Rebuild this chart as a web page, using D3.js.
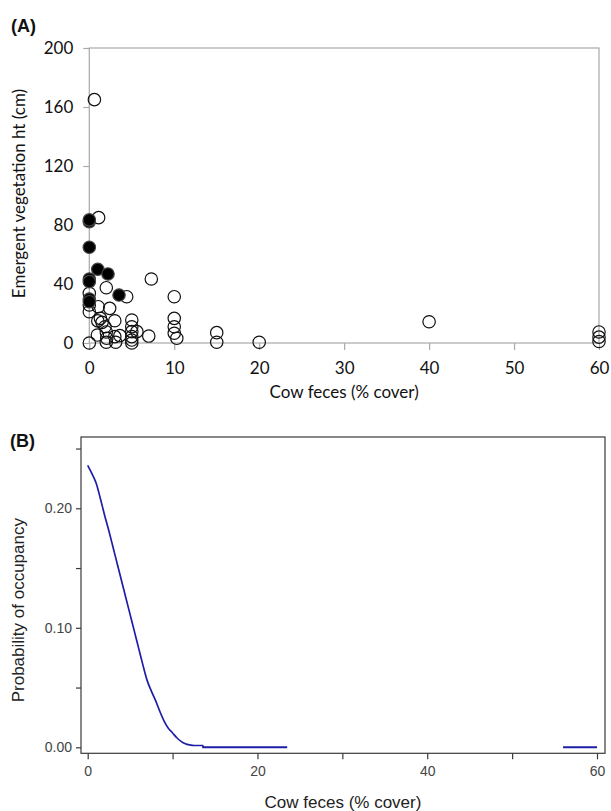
<!DOCTYPE html>
<html>
<head>
<meta charset="utf-8">
<script src="https://cdn.jsdelivr.net/npm/d3@7"></script>
<style>
  html, body { margin: 0; padding: 0; background: #fff; }
  svg { display: block; }
</style>
</head>
<body>
<svg id="fig" width="611" height="811"></svg>
<script>
// ---- Panel A: emergent vegetation height vs. cow feces cover ----
// Sites without the species (open circles)
const openX = [0.6, 1.1, 2.0, 4.4, 7.3, 10, 0, 0, 0, 1.05, 2.4, 1.3, 1.0, 3.0, 1.85, 2.0,
               0.95, 2.05, 3.0, 2.0, 3.1, 0, 5.0, 5.0, 5.0, 5.0, 5.0, 5.0, 5.6, 7.0,
               10, 10, 10, 10.3, 15, 15, 20, 40, 60, 60, 60, 1.5, 3.6];
const openY = [165, 85, 37.5, 31.4, 43.4, 31.4, 33.7, 25.8, 21.2, 24.6, 23.5, 16.7, 15, 15.1, 11, 7.5,
               5.4, 3.2, 4.3, 0.5, 0.5, 0, 15.6, 11, 7.7, 4.3, 2, 0, 7.7, 4.7,
               16.7, 11, 6.6, 3.2, 7, 0.5, 0.5, 14.4, 7.5, 4, 1, 14, 5];
// Occupied sites (filled circles)
const filledX = [0, 0, 0, 1.0, 2.2, 0, 0, 3.5, 0, 0];
const filledY = [82.2, 83.5, 64.9, 50, 46.8, 43.4, 41.6, 32.5, 29.8, 28];
const xTicksA = [0, 10, 20, 30, 40, 50, 60];
const yTicksA = [0, 40, 80, 120, 160, 200];

// ---- Panel B: predicted probability of occupancy ----
const curveX = [0, 0.5, 1, 1.5, 2, 2.5, 3, 3.5, 4, 4.5, 5, 5.5, 6, 6.5, 7, 7.5, 8, 8.5,
                9, 9.5, 10, 10.5, 11, 11.5, 12, 12.6, 13.6];
const curveY = [0.236, 0.229, 0.221, 0.208, 0.194, 0.181, 0.167, 0.153, 0.139, 0.125, 0.111,
                0.097, 0.083, 0.069, 0.056, 0.047, 0.039, 0.030, 0.022, 0.016, 0.012, 0.008,
                0.005, 0.003, 0.002, 0.0015, 0.0015];
const flatX = [13.6, 13.6, 23.5];
const flatY = [0.0015, 0, 0];
const tailX = [56, 60];
const tailY = [0, 0];
const xTicksB = [0, 10, 20, 30, 40, 50, 60];
const xLabelsB = [0, 20, 40, 60];
const yTicksB = [0, 0.05, 0.10, 0.15, 0.20, 0.25];
const yLabelsB = [0, 0.10, 0.20];

const svg = d3.select("#fig");

// =================== Panel A ===================
const xA = d3.scaleLinear().domain([0, 60]).range([89.3, 599]);
const yA = d3.scaleLinear().domain([0, 200]).range([343, 48]);
const fontA = "Lato, 'Open Sans', sans-serif";
const gridGrey = "#a9a9a9";

const gA = svg.append("g");

// plot frame
gA.append("rect")
  .attr("x", xA(0)).attr("y", yA(200))
  .attr("width", xA(60) - xA(0)).attr("height", yA(0) - yA(200))
  .attr("fill", "none").attr("stroke", gridGrey).attr("stroke-width", 1.2);

const axA_x = gA.append("g")
  .attr("transform", `translate(0,${yA(0)})`)
  .call(d3.axisBottom(xA).tickValues(xTicksA).tickSize(7).tickPadding(12).tickFormat(d3.format("d")));
const axA_y = gA.append("g")
  .attr("transform", `translate(${xA(0)},0)`)
  .call(d3.axisLeft(yA).tickValues(yTicksA).tickSize(6).tickPadding(10).tickFormat(d3.format("d")));
[axA_x, axA_y].forEach(ax => {
  ax.select(".domain").remove();
  ax.selectAll(".tick line").attr("stroke", gridGrey).attr("stroke-width", 1.2);
  ax.selectAll(".tick text").attr("fill", "#111").style("font-family", fontA).style("font-size", "17px");
});

// open circles first, filled on top
gA.append("g").selectAll("circle")
  .data(d3.range(openX.length))
  .join("circle")
  .attr("cx", i => xA(openX[i]))
  .attr("cy", i => yA(openY[i]))
  .attr("r", 6.2)
  .attr("fill", "none")
  .attr("stroke", "#111")
  .attr("stroke-width", 1.2);

gA.append("g").selectAll("circle")
  .data(d3.range(filledX.length))
  .join("circle")
  .attr("cx", i => xA(filledX[i]))
  .attr("cy", i => yA(filledY[i]))
  .attr("r", 6.2)
  .attr("fill", "#000")
  .attr("stroke", "#444")
  .attr("stroke-width", 1.2);

gA.append("text")
  .attr("x", (xA(0) + xA(60)) / 2).attr("y", 398)
  .attr("text-anchor", "middle")
  .style("font-family", fontA).style("font-size", "17px").attr("fill", "#111")
  .text("Cow feces (% cover)");

gA.append("text")
  .attr("transform", `translate(25,${(yA(0) + yA(200)) / 2 - 2}) rotate(-90)`)
  .attr("text-anchor", "middle")
  .style("font-family", fontA).style("font-size", "17px").attr("fill", "#111")
  .text("Emergent vegetation ht (cm)");

svg.append("text")
  .attr("x", 11).attr("y", 32)
  .style("font-family", "'Liberation Sans', Arial, sans-serif").style("font-weight", "bold").style("font-size", "18px")
  .attr("fill", "#111")
  .text("(A)");

// =================== Panel B ===================
const xB = d3.scaleLinear().domain([0, 60]).range([87.7, 597]);
const yB = d3.scaleLinear().domain([0, 0.2]).range([747.3, 508.3]);
const fontB = "'Liberation Sans', Arial, sans-serif";
const frameB = { left: 81, right: 605, top: 437, bottom: 753.3 };
const curveBlue = "#1e1ea8";

const gB = svg.append("g");

gB.append("rect")
  .attr("x", frameB.left).attr("y", frameB.top)
  .attr("width", frameB.right - frameB.left).attr("height", frameB.bottom - frameB.top)
  .attr("fill", "none").attr("stroke", "#3a3a3a").attr("stroke-width", 1.2);

const axB_x = gB.append("g")
  .attr("transform", `translate(0,${frameB.bottom})`)
  .call(d3.axisBottom(xB).tickValues(xTicksB).tickSize(6).tickPadding(7)
        .tickFormat(d => xLabelsB.includes(d) ? d3.format("d")(d) : ""));
const axB_y = gB.append("g")
  .attr("transform", `translate(${frameB.left},0)`)
  .call(d3.axisLeft(yB).tickValues(yTicksB).tickSize(5).tickPadding(4)
        .tickFormat(d => yLabelsB.some(v => Math.abs(v - d) < 1e-9) ? d3.format(".2f")(d) : ""));
[axB_x, axB_y].forEach(ax => {
  ax.select(".domain").remove();
  ax.selectAll(".tick line").attr("stroke", "#3a3a3a").attr("stroke-width", 1.2);
  ax.selectAll(".tick text").attr("fill", "#444").style("font-family", fontB).style("font-size", "14px");
});

// smooth fitted curve, then the flat stretches at zero
const smoothLine = d3.line().x(d => xB(d[0])).y(d => yB(d[1])).curve(d3.curveMonotoneX);
const plainLine = d3.line().x(d => xB(d[0])).y(d => yB(d[1]));
gB.append("path")
  .datum(d3.zip(curveX, curveY))
  .attr("d", smoothLine)
  .attr("fill", "none").attr("stroke", curveBlue).attr("stroke-width", 1.7);
gB.append("path")
  .datum(d3.zip(flatX, flatY))
  .attr("d", plainLine)
  .attr("fill", "none").attr("stroke", curveBlue).attr("stroke-width", 1.9);
gB.append("path")
  .datum(d3.zip(tailX, tailY))
  .attr("d", plainLine)
  .attr("fill", "none").attr("stroke", curveBlue).attr("stroke-width", 1.9);

gB.append("text")
  .attr("x", (frameB.left + frameB.right) / 2).attr("y", 808)
  .attr("text-anchor", "middle")
  .style("font-family", fontB).style("font-size", "17px").attr("fill", "#222")
  .text("Cow feces (% cover)");

gB.append("text")
  .attr("transform", `translate(24,${(frameB.top + frameB.bottom) / 2 + 15}) rotate(-90)`)
  .attr("text-anchor", "middle")
  .style("font-family", fontB).style("font-size", "17px").attr("fill", "#222")
  .text("Probability of occupancy");

svg.append("text")
  .attr("x", 10).attr("y", 447)
  .style("font-family", fontB).style("font-weight", "bold").style("font-size", "18px")
  .attr("fill", "#111")
  .text("(B)");
</script>
</body>
</html>
